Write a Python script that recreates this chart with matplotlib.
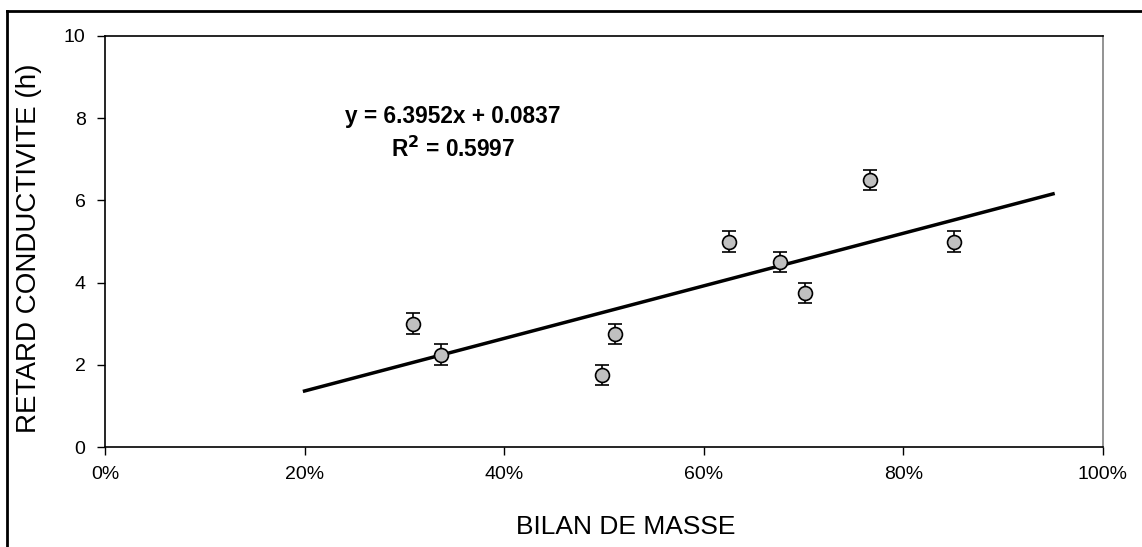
import matplotlib
matplotlib.use('Agg')
import matplotlib.pyplot as plt
from matplotlib.ticker import FuncFormatter
from matplotlib.lines import Line2D

plt.rcParams['font.family'] = ['Liberation Sans', 'DejaVu Sans']

# data
bilan = [0.309, 0.337, 0.498, 0.511, 0.625, 0.676, 0.701, 0.767, 0.851]
retard = [3.0, 2.25, 1.75, 2.75, 5.0, 4.5, 3.75, 6.5, 5.0]
err = [0.25] * len(bilan)
slope, intercept = 6.3952, 0.0837
fit_x = [0.20, 0.95]
xticks = [0, 0.2, 0.4, 0.6, 0.8, 1.0]
yticks = [0, 2, 4, 6, 8, 10]

fg = plt.figure(figsize=(11.42, 5.47), dpi=100)
ax = fg.add_axes([0.0919, 0.1828, 0.8739, 0.7514])

fit_y = [slope * v + intercept for v in fit_x]
ax.plot(fit_x, fit_y, color='black', lw=2.5, zorder=2)
ax.errorbar(bilan, retard, yerr=err, fmt='o', ms=10, mfc='#c0c0c0', mec='black',
            mew=1.2, ecolor='black', elinewidth=1.2, capsize=5, capthick=1.2, zorder=3)

ax.set_xlim(0, 1.0)
ax.set_ylim(0, 10)
ax.set_xticks(xticks)
ax.set_yticks(yticks)
ax.xaxis.set_major_formatter(FuncFormatter(lambda v, p: '{:.0f}%'.format(v * 100)))
ax.tick_params(direction='out', length=6, width=1, labelsize=14, colors='black', pad=8)
for s in ax.spines.values():
    s.set_linewidth(1.2)
ax.spines['right'].set_color('#808080')

ax.text(0.348, 8.03, 'y = 6.3952x + 0.0837', ha='center', va='center',
        fontsize=16.3, fontweight='bold')
ax.text(0.349, 7.25, r'R$^\mathbf{2}$ = 0.5997', ha='center', va='center',
        fontsize=16.3, fontweight='bold')

fg.text(0.025, 0.547, 'RETARD CONDUCTIVITE (h)', rotation=90, ha='center', va='center',
        fontsize=20)
fg.text(0.548, 0.036, 'BILAN DE MASSE', ha='center', va='center', fontsize=19)

# outer frame (only left and top edges visible in the crop)
fg.add_artist(Line2D([0.0061, 0.0061], [0, 0.9799], transform=fg.transFigure, color='black', lw=2))
fg.add_artist(Line2D([0.0061, 1.0], [0.9799, 0.9799], transform=fg.transFigure, color='black', lw=2))

fg.savefig('out.png', dpi=100)
